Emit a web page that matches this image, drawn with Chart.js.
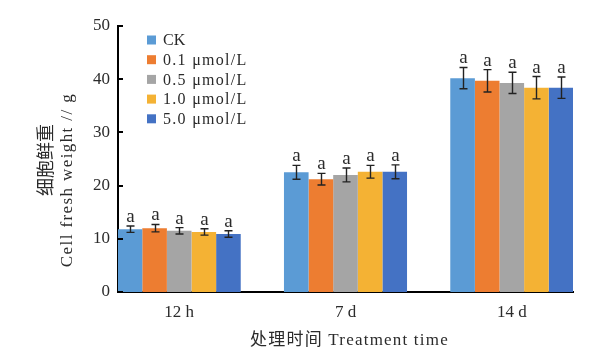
<!DOCTYPE html>
<html>
<head>
<meta charset="utf-8">
<script src="https://cdn.jsdelivr.net/npm/chart.js@4.4.1/dist/chart.umd.min.js"></script>
<style>
  html, body { margin: 0; padding: 0; background: #ffffff; }
  #wrap { position: relative; width: 611px; height: 352px; }
</style>
</head>
<body>
<div id="wrap"><canvas id="freshChart"></canvas></div>
<script>
// categories and series
const categories = ['12 h', '7 d', '14 d'];
const seriesNames = ['CK', '0.1 μmol/L', '0.5 μmol/L', '1.0 μmol/L', '5.0 μmol/L'];
const ckValues   = [11.8, 22.5, 40.2];
const p01Values  = [12.0, 21.2, 39.7];
const p05Values  = [11.5, 22.0, 39.3];
const p10Values  = [11.3, 22.6, 38.4];
const p50Values  = [10.9, 22.6, 38.4];
const ckErr  = [0.6, 1.3, 2.0];
const p01Err = [0.7, 1.1, 2.1];
const p05Err = [0.6, 1.3, 2.0];
const p10Err = [0.6, 1.2, 2.1];
const p50Err = [0.6, 1.3, 2.0];
const sigLetters = ['a', 'a', 'a'];
const yTicks = [0, 10, 20, 30, 40, 50];

const colors = ['#5B9BD5', '#ED7D31', '#A5A5A5', '#F4B234', '#4472C4'];
const allValues = [ckValues, p01Values, p05Values, p10Values, p50Values];
const allErrors = [ckErr, p01Err, p05Err, p10Err, p50Err];

const textColor = '#2b2b2b';

// error bars, letters, legend, inner ticks and titles
const extrasPlugin = {
  id: 'extras',
  afterDatasetsDraw(chart) {
    const ctx = chart.ctx;
    const y = chart.scales.y;
    const area = chart.chartArea;
    ctx.save();

    // inner tick marks on the y axis
    ctx.strokeStyle = '#000';
    ctx.lineWidth = 2;
    yTicks.forEach(function(t) {
      const py = Math.round(y.getPixelForValue(t));
      ctx.beginPath();
      ctx.moveTo(area.left, py);
      ctx.lineTo(area.left + 5, py);
      ctx.stroke();
    });

    // error bars + letters
    allValues.forEach(function(vals, d) {
      const meta = chart.getDatasetMeta(d);
      meta.data.forEach(function(bar, i) {
        const top = y.getPixelForValue(vals[i] + allErrors[d][i]);
        const bot = y.getPixelForValue(vals[i] - allErrors[d][i]);
        const x = Math.round(bar.x) + 0.5;
        ctx.strokeStyle = '#222';
        ctx.lineWidth = 1.4;
        ctx.beginPath();
        ctx.moveTo(x, top); ctx.lineTo(x, bot);
        ctx.moveTo(x - 4, top); ctx.lineTo(x + 4, top);
        ctx.moveTo(x - 4, bot); ctx.lineTo(x + 4, bot);
        ctx.stroke();
        ctx.fillStyle = textColor;
        ctx.font = "19px 'Liberation Serif'";
        ctx.textAlign = 'center';
        ctx.textBaseline = 'alphabetic';
        ctx.fillText(sigLetters[i], x, top - 4);
      });
    });

    // legend inside plot area
    ctx.font = "16px 'Liberation Serif', 'Noto Sans CJK SC'";
    ctx.textAlign = 'left';
    ctx.textBaseline = 'middle';
    seriesNames.forEach(function(name, d) {
      const cy = 40 + d * 19.7;
      ctx.fillStyle = colors[d];
      ctx.fillRect(147, cy - 4.5, 9, 9);
      ctx.fillStyle = textColor;
      ctx.letterSpacing = d === 0 ? '0px' : '1.3px';
      ctx.fillText(name, 163, cy + 1);
    });
    ctx.letterSpacing = '0px';

    // y axis title (two lines, rotated)
    ctx.save();
    ctx.translate(45, 160);
    ctx.rotate(-Math.PI / 2);
    ctx.textAlign = 'center';
    ctx.textBaseline = 'middle';
    ctx.font = "18px 'Noto Sans CJK SC'";
    ctx.fillText('细胞鲜重', 0, 0);
    ctx.restore();
    ctx.save();
    ctx.translate(68, 180);
    ctx.rotate(-Math.PI / 2);
    ctx.textAlign = 'center';
    ctx.textBaseline = 'middle';
    ctx.font = "17px 'Liberation Serif'";
    ctx.letterSpacing = '1.4px';
    ctx.fillText('Cell fresh weight // g', 0, 0);
    ctx.restore();

    // x axis title
    ctx.textAlign = 'center';
    ctx.textBaseline = 'middle';
    ctx.font = "17px 'Liberation Serif', 'Noto Sans CJK SC'";
    ctx.letterSpacing = '1.2px';
    ctx.fillText('处理时间 Treatment time', (area.left + area.right) / 2 + 4, 341);
    ctx.letterSpacing = '0px';

    ctx.restore();
  }
};

document.addEventListener('DOMContentLoaded', function() {
  const ctx = document.getElementById('freshChart').getContext('2d');

  const datasets = seriesNames.map(function(name, d) {
    return {
      label: name,
      data: allValues[d].map(function(v, i) { return { x: i, y: v }; }),
      backgroundColor: colors[d],
      borderWidth: 0,
      categoryPercentage: 0.74,
      barPercentage: 1.0
    };
  });

  new Chart(ctx, {
    type: 'bar',
    data: { datasets: datasets },
    options: {
      responsive: true,
      maintainAspectRatio: false,
      animation: false,
      layout: { padding: { top: 26, right: 38, left: 0, bottom: 0 } },
      plugins: {
        legend: { display: false },
        tooltip: { enabled: false }
      },
      scales: {
        x: {
          type: 'linear',
          offset: false,
          min: -0.368,
          max: 2.368,
          grid: { display: false },
          border: { display: true, color: '#000', width: 2 },
          afterBuildTicks: function(scale) {
            scale.ticks = categories.map(function(c, i) { return { value: i }; });
          },
          afterFit: function(scale) { scale.height = 60; },
          ticks: {
            autoSkip: false,
            maxRotation: 0,
            padding: 2,
            color: textColor,
            font: { family: "'Liberation Serif'", size: 17 },
            callback: function(value) { return categories[value]; }
          }
        },
        y: {
          min: 0,
          max: 50,
          grid: { display: false, drawTicks: false },
          border: { display: true, color: '#000', width: 2 },
          afterFit: function(scale) { scale.width = 118; },
          afterBuildTicks: function(scale) {
            scale.ticks = yTicks.map(function(t) { return { value: t }; });
          },
          ticks: {
            padding: 8,
            color: textColor,
            font: { family: "'Liberation Serif'", size: 17 }
          }
        }
      }
    },
    plugins: [extrasPlugin]
  });
});
</script>
</body>
</html>
